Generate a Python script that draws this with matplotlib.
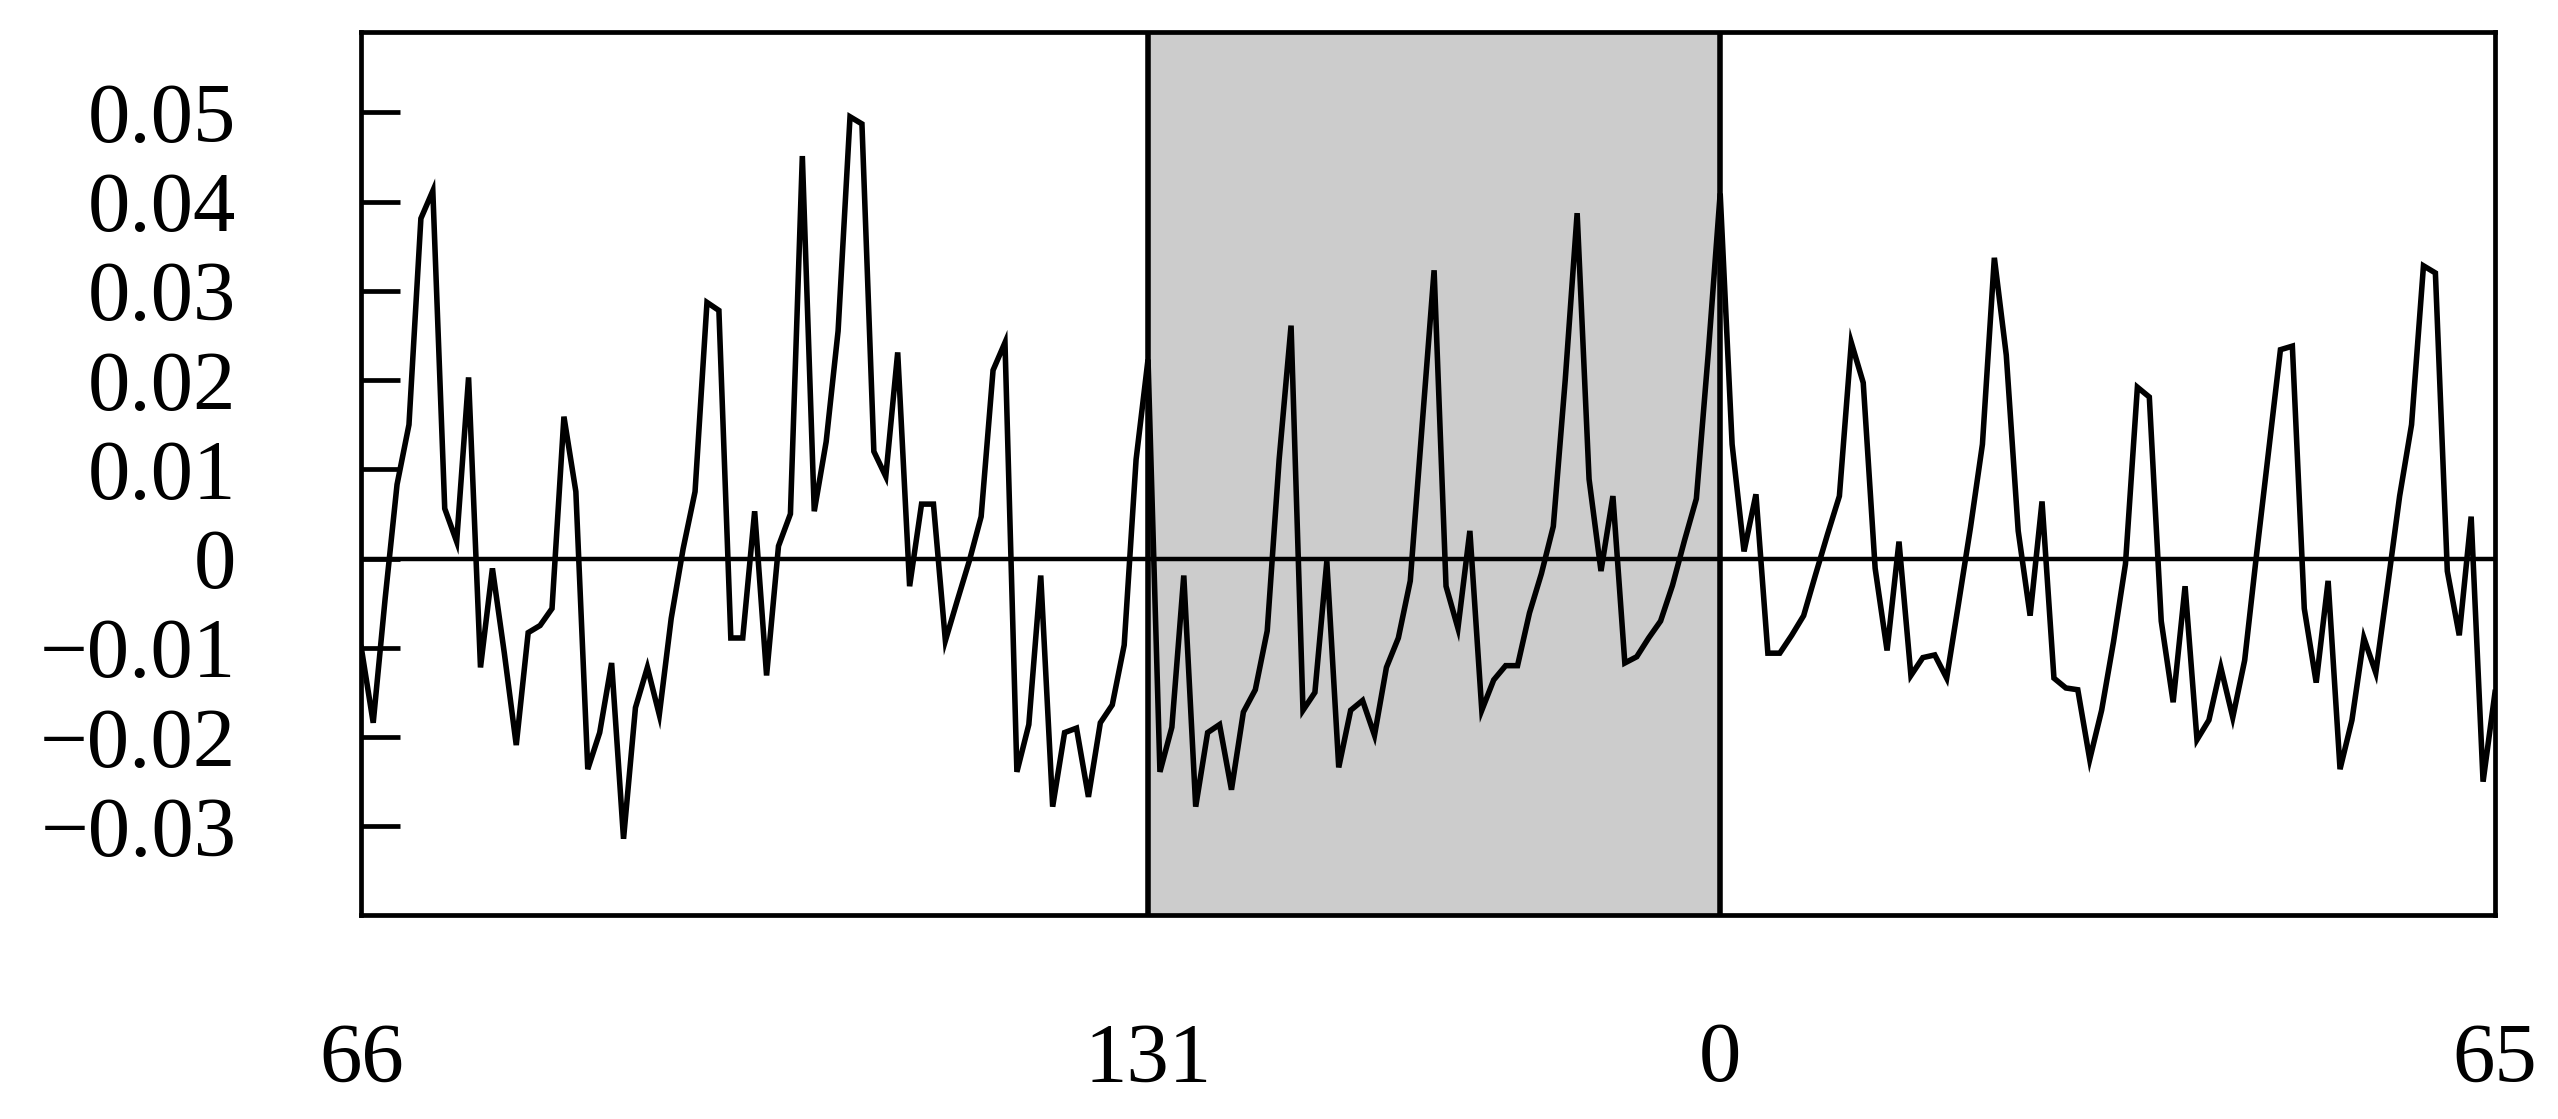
import numpy as np
import matplotlib
matplotlib.use("Agg")
import matplotlib.pyplot as plt

# series values, one per sample
values = [
    -0.0100, -0.0184, -0.0045, 0.0083, 0.0150, 0.0381, 0.0412, 0.0056, 0.0019, 0.0203,
    -0.0122, -0.0011, -0.0106, -0.0209, -0.0083, -0.0075, -0.0056, 0.0159, 0.0075, -0.0236,
    -0.0195, -0.0117, -0.0314, -0.0167, -0.0122, -0.0175, -0.0067, 0.0011, 0.0075, 0.0287,
    0.0278, -0.0089, -0.0089, 0.0053, -0.0131, 0.0014, 0.0050, 0.0451, 0.0053, 0.0131,
    0.0255, 0.0495, 0.0487, 0.0120, 0.0092, 0.0231, -0.0031, 0.0061, 0.0061, -0.0092,
    -0.0047, -0.0003, 0.0047, 0.0211, 0.0242, -0.0239, -0.0186, -0.0019, -0.0278, -0.0195,
    -0.0190, -0.0267, -0.0184, -0.0164, -0.0097, 0.0111, 0.0223, -0.0239, -0.0189, -0.0019,
    -0.0278, -0.0195, -0.0186, -0.0259, -0.0172, -0.0147, -0.0081, 0.0111, 0.0261, -0.0170,
    -0.0150, -0.0003, -0.0234, -0.0170, -0.0159, -0.0198, -0.0122, -0.0089, -0.0025, 0.0150,
    0.0323, -0.0031, -0.0078, 0.0031, -0.0170, -0.0136, -0.0120, -0.0120, -0.0061, -0.0017,
    0.0036, 0.0200, 0.0387, 0.0089, -0.0014, 0.0070, -0.0117, -0.0110, -0.0089, -0.0070,
    -0.0030, 0.0020, 0.0067, 0.0230, 0.0409, 0.0128, 0.0008, 0.0072, -0.0106, -0.0106,
    -0.0086, -0.0064, -0.0018, 0.0027, 0.0070, 0.0242, 0.0197, -0.0011, -0.0103, 0.0019,
    -0.0131, -0.0111, -0.0108, -0.0134, -0.0050, 0.0035, 0.0128, 0.0337, 0.0228, 0.0031,
    -0.0064, 0.0064, -0.0134, -0.0145, -0.0147, -0.0225, -0.0170, -0.0093, -0.0006, 0.0192,
    0.0181, -0.0070, -0.0161, -0.0031, -0.0203, -0.0181, -0.0122, -0.0178, -0.0114, 0.0005,
    0.0120, 0.0234, 0.0238, -0.0056, -0.0139, -0.0025, -0.0236, -0.0181, -0.0089, -0.0128,
    -0.0030, 0.0070, 0.0150, 0.0328, 0.0320, -0.0014, -0.0086, 0.0047, -0.0250, -0.0150,
]
x = np.arange(len(values))

# x ticks: sample position -> label
xtick_pos = [0, 66, 114, 179]
xtick_labels = ["66", "131", "0", "65"]
# shaded window (sample positions)
shade_start, shade_end = 66, 114

ytick_vals = [-0.03, -0.02, -0.01, 0.0, 0.01, 0.02, 0.03, 0.04, 0.05]
ytick_labels = ["\u22120.03", "\u22120.02", "\u22120.01", "0",
                "0.01", "0.02", "0.03", "0.04", "0.05"]

plt.rcParams["font.family"] = ["Liberation Serif", "DejaVu Serif"]

fig = plt.figure(figsize=(12.79, 5.595), dpi=200)
ax = fig.add_axes([0.14124, 0.18204, 0.97537 - 0.14124, 0.97167 - 0.18204])

ax.axvspan(shade_start, shade_end, color="#cccccc", lw=0, zorder=0)
ax.axvline(shade_start, color="black", lw=2.0, zorder=2)
ax.axvline(shade_end, color="black", lw=2.0, zorder=2)
ax.axhline(0, color="black", lw=1.6, zorder=2)
ax.plot(x, values, color="black", lw=2.0, solid_joinstyle="miter", zorder=3)

ax.set_xlim(0, len(values) - 1)
ax.set_ylim(-0.03997, 0.05903)

ax.set_xticks(xtick_pos)
ax.set_xticklabels(xtick_labels)
ax.set_yticks(ytick_vals)
ax.set_yticklabels(ytick_labels)
ax.tick_params(axis="x", length=0, pad=38.5, labelsize=30.5)
ax.tick_params(axis="y", direction="in", length=14, width=1.7, pad=45, labelsize=30.5)
for sp in ax.spines.values():
    sp.set_linewidth(1.7)

fig.savefig("out.png", dpi=200)
